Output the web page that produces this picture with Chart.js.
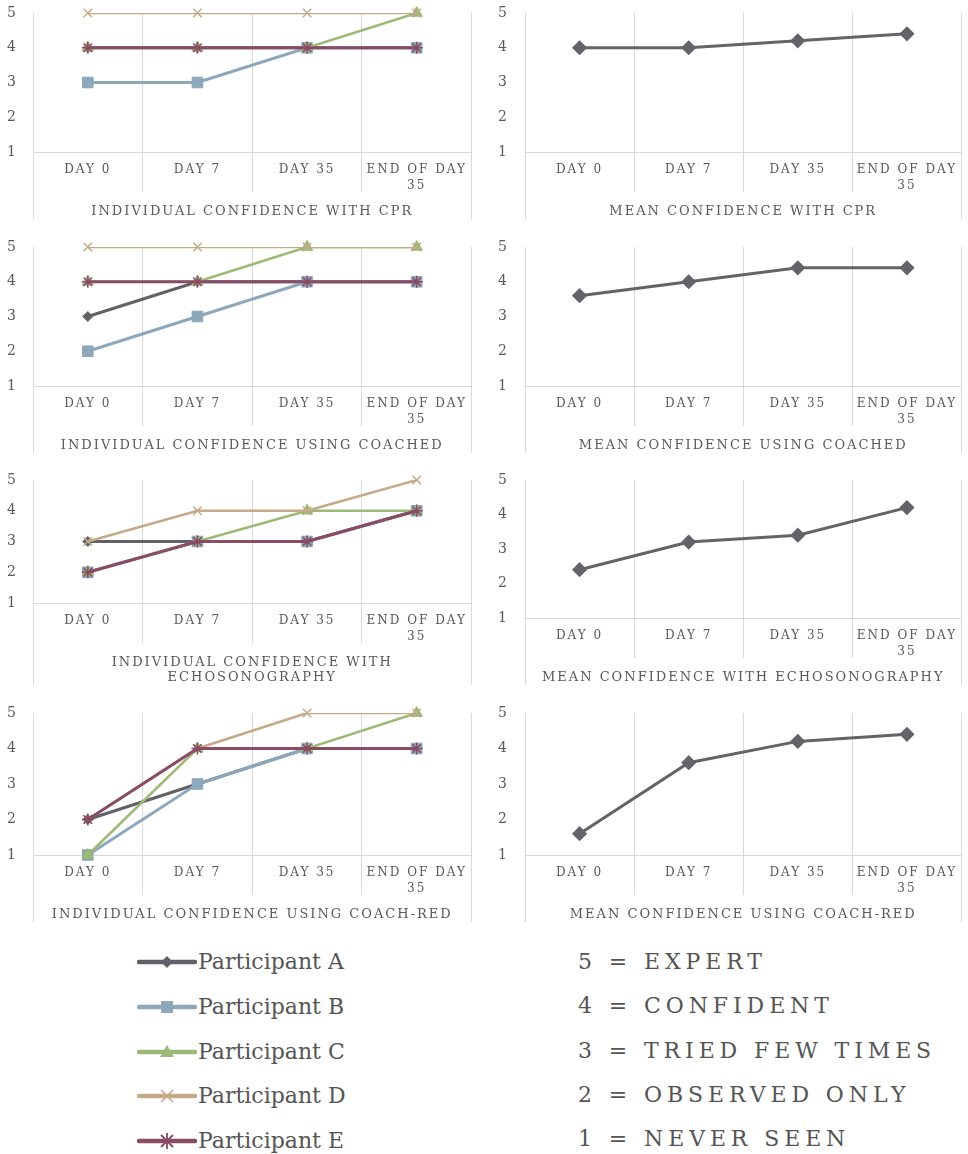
<!DOCTYPE html>
<html><head><meta charset="utf-8">
<script src="https://cdn.jsdelivr.net/npm/chart.js@4.4.0/dist/chart.umd.min.js"></script>
<style>
html,body{margin:0;padding:0;background:#fff;}
body{width:968px;height:1154px;overflow:hidden;position:relative;font-family:"DejaVu Serif",serif;}
canvas{position:absolute;}
.lg{position:absolute;height:30px;line-height:30px;white-space:nowrap;color:#555;font-size:22px;}
.lg svg{position:absolute;left:0;top:3px;}
.sc{position:absolute;height:30px;line-height:30px;white-space:nowrap;color:#555;font-size:22px;letter-spacing:4.9px;}
</style></head><body>
<script>
// ---------- data ----------
const categories = ['DAY 0', 'DAY 7', 'DAY 35', ['END OF DAY', '35']];
const participantNames = ['Participant A', 'Participant B', 'Participant C', 'Participant D', 'Participant E'];
const scaleLegend = ['5 = EXPERT', '4 = CONFIDENT', '3 = TRIED FEW TIMES', '2 = OBSERVED ONLY', '1 = NEVER SEEN'];
const yTickValues = [1, 2, 3, 4, 5];

// rows: participant A..E
const cprIndividual      = [[4,4,4,4],[3,3,4,4],[4,4,4,5],[5,5,5,5],[4,4,4,4]];
const coachedIndividual  = [[3,4,4,4],[2,3,4,4],[4,4,5,5],[5,5,5,5],[4,4,4,4]];
const echoIndividual     = [[3,3,3,4],[2,3,3,4],[2,3,4,4],[3,4,4,5],[2,3,3,4]];
const coachRedIndividual = [[2,3,4,4],[1,3,4,4],[1,4,4,5],[2,4,5,5],[2,4,4,4]];

const cprMean      = [4, 4, 4.2, 4.4];
const coachedMean  = [3.6, 4, 4.4, 4.4];
const echoMean     = [2.4, 3.2, 3.4, 4.2];
const coachRedMean = [1.6, 3.6, 4.2, 4.4];

const individualTitles = ['INDIVIDUAL CONFIDENCE WITH CPR', 'INDIVIDUAL CONFIDENCE USING COACHED',
  ['INDIVIDUAL CONFIDENCE WITH', 'ECHOSONOGRAPHY'], 'INDIVIDUAL CONFIDENCE USING COACH-RED'];
const meanTitles = ['MEAN CONFIDENCE WITH CPR', 'MEAN CONFIDENCE USING COACHED',
  'MEAN CONFIDENCE WITH ECHOSONOGRAPHY', 'MEAN CONFIDENCE USING COACH-RED'];

// ---------- styles ----------
const seriesColors = ['#616168', '#8ea8bb', '#9cb975', '#c4aa88', '#8a4c64'];
const seriesPoints = ['rectRot', 'rect', 'triangle', 'crossRot', 'star'];
const seriesRadius = [5, 7.5, 6.5, 6, 6];
const seriesWidths = [3, 3, 2.5, 2.5, 3];
const meanColor = '#636369';
const gridColor = '#d9d9d9';
const textColor = '#595959';
const FONT = 'DejaVu Serif';

const rowTops = [0, 234, 467, 700];
const rowHeights = [220, 220, 219, 223];

const spacingPlugin = {
  id: 'spacing',
  beforeLayout(chart) { chart.ctx.letterSpacing = '2px'; },
  beforeDraw(chart) { chart.ctx.letterSpacing = '2px'; },
  afterDraw(chart) {
    const {ctx, chartArea, scales} = chart;
    const x = scales.x;
    ctx.save();
    ctx.strokeStyle = gridColor;
    ctx.lineWidth = 1;
    [chartArea.left, chartArea.right].forEach(px => {
      const ax = Math.round(px - 0.5) + 0.5;
      ctx.beginPath();
      ctx.moveTo(ax, x.top + 39);
      ctx.lineTo(ax, x.bottom - 1);
      ctx.stroke();
    });
    ctx.restore();
  }
};

function makeChart(left, top, width, height, datasets, title, padLeft, yAxisWidth, padRight) {
  const c = document.createElement('canvas');
  c.width = width; c.height = height;
  c.style.left = left + 'px'; c.style.top = top + 'px';
  c.style.width = width + 'px'; c.style.height = height + 'px';
  document.body.appendChild(c);
  const lines = Array.isArray(title) ? title.length : 1;
  new Chart(c, {
    type: 'line',
    data: { labels: categories, datasets },
    plugins: [spacingPlugin],
    options: {
      responsive: false, animation: false, events: [], devicePixelRatio: 1,
      layout: { padding: { top: 13, right: padRight, left: padLeft, bottom: 0 } },
      plugins: { legend: { display: false }, tooltip: { enabled: false } },
      scales: {
        x: {
          offset: true,
          grid: { offset: true, color: gridColor, lineWidth: 1, tickLength: 40, drawTicks: true, tickColor: gridColor },
          border: { color: gridColor, width: 1 },
          ticks: { padding: -30, color: textColor, maxRotation: 0, autoSkip: false,
                   font: { family: FONT, size: 12, lineHeight: 16 / 12 } },
          title: { display: true, text: title, color: textColor,
                   font: { family: FONT, size: 13, lineHeight: 15 / 13 },
                   padding: { top: 0, bottom: 0.5 } },
          afterFit: s => { s.height = 68 + (lines - 1) * 15; }
        },
        y: {
          min: 1, max: 5,
          afterBuildTicks: s => { s.ticks = yTickValues.map(v => ({ value: v })); },
          ticks: { padding: 0, crossAlign: 'far', color: textColor, font: { family: FONT, size: 14 } },
          grid: { display: false, drawTicks: false },
          border: { display: false },
          afterFit: s => { s.width = yAxisWidth; }
        }
      }
    }
  });
}

const individualData = [cprIndividual, coachedIndividual, echoIndividual, coachRedIndividual];
const meanData = [cprMean, coachedMean, echoMean, coachRedMean];

individualData.forEach((rows, r) => {
  const ds = [];
  rows.forEach((vals, i) => {
    // line part (clipped to plot area, like the original)
    ds.push({
      label: participantNames[i],
      data: vals,
      borderColor: seriesColors[i],
      backgroundColor: seriesColors[i],
      borderWidth: seriesWidths[i],
      pointRadius: 0,
      tension: 0,
      clip: 0,
      order: 2 * (4 - i) + 1
    });
    // marker part (not clipped)
    ds.push({
      label: participantNames[i] + ' markers',
      data: vals,
      showLine: false,
      borderColor: seriesColors[i],
      backgroundColor: seriesColors[i],
      pointStyle: seriesPoints[i],
      pointRadius: seriesRadius[i],
      pointBorderWidth: (i >= 3) ? 1.5 : 1,
      pointBackgroundColor: seriesColors[i],
      pointBorderColor: seriesColors[i],
      clip: false,
      order: 2 * (4 - i)
    });
  });
  makeChart(0, rowTops[r], 480, rowHeights[r], ds, individualTitles[r], 7, 26, 7);
});

meanData.forEach((vals, r) => {
  const ds = [{
    label: 'Mean',
    data: vals,
    borderColor: meanColor, backgroundColor: meanColor,
    borderWidth: 3, pointStyle: 'rectRot', pointRadius: 5.5,
    pointBackgroundColor: meanColor, pointBorderColor: meanColor, tension: 0
  }];
  makeChart(480, rowTops[r], 490, rowHeights[r], ds, meanTitles[r], 18, 27, 0);
});

// ---------- legends ----------
function markerSvg(i) {
  const c = seriesColors[i];
  let m = '';
  if (i === 0) m = `<polygon points="30,6 36,12 30,18 24,12" fill="${c}"/>`;
  if (i === 1) m = `<rect x="24" y="6" width="12" height="12" fill="${c}"/>`;
  if (i === 2) m = `<polygon points="30,5 37,17 23,17" fill="${c}"/>`;
  if (i === 3) m = `<path d="M24,6 L36,18 M36,6 L24,18" stroke="${c}" stroke-width="1.6"/>`;
  if (i === 4) m = `<path d="M24,6 L36,18 M36,6 L24,18 M30,4 L30,20" stroke="${c}" stroke-width="1.8"/>`;
  return `<svg width="60" height="24" viewBox="0 0 60 24"><line x1="2" y1="12" x2="58" y2="12" stroke="${c}" stroke-width="4.5" stroke-linecap="round"/>${m}</svg>`;
}
participantNames.forEach((name, i) => {
  const d = document.createElement('div');
  d.className = 'lg';
  const cy = 962 + i * 44.8;
  d.style.left = '137px';
  d.style.top = (cy - 15) + 'px';
  d.innerHTML = markerSvg(i) + `<span style="position:absolute;left:61px;top:0">${name}</span>`;
  document.body.appendChild(d);
});
scaleLegend.forEach((t, i) => {
  const d = document.createElement('div');
  d.className = 'sc';
  const cy = 962 + i * 44.3;
  d.style.left = '578px';
  d.style.top = (cy - 15) + 'px';
  d.textContent = t;
  document.body.appendChild(d);
});
</script>
</body></html>
